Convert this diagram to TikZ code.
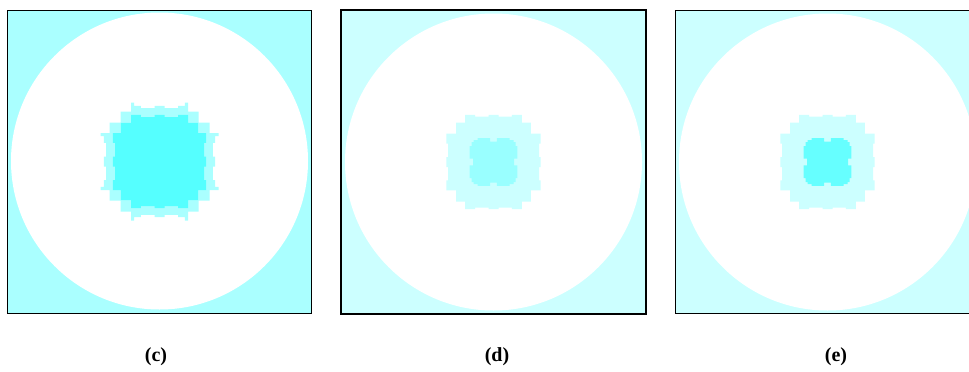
\documentclass[tikz,border=0pt]{standalone}
\usepackage{fontspec}
\setmainfont{Liberation Serif}
\usetikzlibrary{positioning}
\definecolor{edgeC}{HTML}{AAFFFF}
\definecolor{coreC}{HTML}{55FFFF}
\definecolor{edgeD}{HTML}{CCFFFF}
\definecolor{coreD}{HTML}{99FFFF}
\definecolor{coreE}{HTML}{66FFFF}
\tikzset{
  panelbox/.style={draw=black,line width=1pt},
  caption/.style={font=\fontsize{20}{24}\selectfont\bfseries,inner sep=0pt}
}

\begin{document}
\begin{tikzpicture}[x=1pt,y=-1pt]
\clip (0,0) rectangle (969,372);
\fill[white] (0,0) rectangle (969,372);

% panel (c)
\begin{scope}[shift={(159.5,161.5)}]
\fill[edgeC] (-152.5,-151) rectangle (151.5,151.5);
\fill[white] (0,-0.5) circle (148.5);
\fill[edgeC] plot coordinates {(0,-55.7) (5,-55.7) (5,-53.3) (18.7,-53.3) (18.7,-55.7) (25.3,-55.7)
  (25.3,-59) (28.5,-59) (28.5,-50) (39,-50) (39,-39) (50,-39) (50,-28.5) (59,-28.5) (59,-25.3)
  (55.7,-25.3) (55.7,-18.7) (53.3,-18.7) (53.3,-5) (55.7,-5)
  (55.7,5) (53.3,5) (53.3,18.7) (55.7,18.7) (55.7,25.3) (59,25.3) (59,28.5) (50,28.5) (50,39)
  (39,39) (39,50) (28.5,50) (28.5,59) (25.3,59) (25.3,55.7) (18.7,55.7) (18.7,53.3) (5,53.3) (5,55.7)
  (-5,55.7) (-5,53.3) (-18.7,53.3) (-18.7,55.7) (-25.3,55.7) (-25.3,59) (-28.5,59) (-28.5,50)
  (-39,50) (-39,39) (-50,39) (-50,28.5) (-59,28.5) (-59,25.3) (-55.7,25.3) (-55.7,18.7)
  (-53.3,18.7) (-53.3,5) (-55.7,5)
  (-55.7,-5) (-53.3,-5) (-53.3,-18.7) (-55.7,-18.7) (-55.7,-25.3) (-59,-25.3) (-59,-28.5)
  (-50,-28.5) (-50,-39) (-39,-39) (-39,-50) (-28.5,-50) (-28.5,-59) (-25.3,-59) (-25.3,-55.7)
  (-18.7,-55.7) (-18.7,-53.3) (-5,-53.3) (-5,-55.7)} -- cycle;
\fill[coreC] plot coordinates {(0,-46.7) (5,-46.7) (5,-44.5) (18.7,-44.5) (18.7,-46.7) (28.5,-46.7)
  (28.5,-38.7) (38.7,-38.7) (38.7,-28.5) (46.7,-28.5) (46.7,-18.7) (44.5,-18.7) (44.5,-5) (46.7,-5)
  (46.7,5) (44.5,5) (44.5,18.7) (46.7,18.7) (46.7,28.5) (38.7,28.5) (38.7,38.7) (28.5,38.7)
  (28.5,46.7) (18.7,46.7) (18.7,44.5) (5,44.5) (5,46.7)
  (-5,46.7) (-5,44.5) (-18.7,44.5) (-18.7,46.7) (-28.5,46.7) (-28.5,38.7) (-38.7,38.7)
  (-38.7,28.5) (-46.7,28.5) (-46.7,18.7) (-44.5,18.7) (-44.5,5) (-46.7,5)
  (-46.7,-5) (-44.5,-5) (-44.5,-18.7) (-46.7,-18.7) (-46.7,-28.5) (-38.7,-28.5) (-38.7,-38.7)
  (-28.5,-38.7) (-28.5,-46.7) (-18.7,-46.7) (-18.7,-44.5) (-5,-44.5) (-5,-46.7)} -- cycle;
\draw[panelbox,line width=0.9pt] (-152.5,-151) rectangle (151.5,151.5);
\end{scope}

% panel (d)
\begin{scope}[shift={(493.5,162)}]
\fill[edgeD] (-152.5,-152.5) rectangle (152.5,152);
\fill[white] (0,0) circle (148.5);
\fill[edgeD] plot coordinates {(0,-47.2) (5,-47.2) (5,-45.5) (18.3,-45.5) (18.3,-47.2) (28.3,-47.2)
  (28.3,-39.5) (37.3,-39.5) (37.3,-28.3) (47.2,-28.3) (47.2,-18.3) (45.5,-18.3) (45.5,-5) (47.2,-5)
  (47.2,5) (45.5,5) (45.5,18.3) (47.2,18.3) (47.2,28.3) (37.3,28.3) (37.3,39.5) (28.3,39.5)
  (28.3,47.2) (18.3,47.2) (18.3,45.5) (5,45.5) (5,47.2)
  (-5,47.2) (-5,45.5) (-18.3,45.5) (-18.3,47.2) (-28.3,47.2) (-28.3,39.5) (-37.3,39.5)
  (-37.3,28.3) (-47.2,28.3) (-47.2,18.3) (-45.5,18.3) (-45.5,5) (-47.2,5)
  (-47.2,-5) (-45.5,-5) (-45.5,-18.3) (-47.2,-18.3) (-47.2,-28.3) (-37.3,-28.3) (-37.3,-39.5)
  (-28.3,-39.5) (-28.3,-47.2) (-18.3,-47.2) (-18.3,-45.5) (-5,-45.5) (-5,-47.2)} -- cycle;
\fill[coreD] plot coordinates {(0,-20.5) (3.3,-20.5) (3.3,-23.8) (16,-23.8) (16,-22) (20,-22) (20,-20)
  (22,-20) (22,-16) (23.8,-16) (23.8,-3.3) (20.5,-3.3)
  (20.5,3.3) (23.8,3.3) (23.8,16) (22,16) (22,20) (20,20) (20,22) (16,22) (16,23.8) (3.3,23.8) (3.3,20.5)
  (-3.3,20.5) (-3.3,23.8) (-16,23.8) (-16,22) (-20,22) (-20,20) (-22,20) (-22,16) (-23.8,16)
  (-23.8,3.3) (-20.5,3.3)
  (-20.5,-3.3) (-23.8,-3.3) (-23.8,-16) (-22,-16) (-22,-20) (-20,-20) (-20,-22) (-16,-22)
  (-16,-23.8) (-3.3,-23.8) (-3.3,-20.5)} -- cycle;
\draw[panelbox,line width=2pt] (-152.5,-152.5) rectangle (152.5,152);
\end{scope}

% panel (e)
\begin{scope}[shift={(827.5,162)}]
\fill[edgeD] (-152.5,-151.5) rectangle (152.5,151.5);
\fill[white] (0,0) circle (148.5);
\fill[edgeD] plot coordinates {(0,-47.2) (5,-47.2) (5,-45.5) (18.3,-45.5) (18.3,-47.2) (28.3,-47.2)
  (28.3,-39.5) (37.3,-39.5) (37.3,-28.3) (47.2,-28.3) (47.2,-18.3) (45.5,-18.3) (45.5,-5) (47.2,-5)
  (47.2,5) (45.5,5) (45.5,18.3) (47.2,18.3) (47.2,28.3) (37.3,28.3) (37.3,39.5) (28.3,39.5)
  (28.3,47.2) (18.3,47.2) (18.3,45.5) (5,45.5) (5,47.2)
  (-5,47.2) (-5,45.5) (-18.3,45.5) (-18.3,47.2) (-28.3,47.2) (-28.3,39.5) (-37.3,39.5)
  (-37.3,28.3) (-47.2,28.3) (-47.2,18.3) (-45.5,18.3) (-45.5,5) (-47.2,5)
  (-47.2,-5) (-45.5,-5) (-45.5,-18.3) (-47.2,-18.3) (-47.2,-28.3) (-37.3,-28.3) (-37.3,-39.5)
  (-28.3,-39.5) (-28.3,-47.2) (-18.3,-47.2) (-18.3,-45.5) (-5,-45.5) (-5,-47.2)} -- cycle;
\fill[coreE] plot coordinates {(0,-20.5) (3.3,-20.5) (3.3,-23.8) (16,-23.8) (16,-22) (20,-22) (20,-20)
  (22,-20) (22,-16) (23.8,-16) (23.8,-3.3) (20.5,-3.3)
  (20.5,3.3) (23.8,3.3) (23.8,16) (22,16) (22,20) (20,20) (20,22) (16,22) (16,23.8) (3.3,23.8) (3.3,20.5)
  (-3.3,20.5) (-3.3,23.8) (-16,23.8) (-16,22) (-20,22) (-20,20) (-22,20) (-22,16) (-23.8,16)
  (-23.8,3.3) (-20.5,3.3)
  (-20.5,-3.3) (-23.8,-3.3) (-23.8,-16) (-22,-16) (-22,-20) (-20,-20) (-20,-22) (-16,-22)
  (-16,-23.8) (-3.3,-23.8) (-3.3,-20.5)} -- cycle;
\draw[panelbox,line width=0.9pt] (-152.5,-151.5) rectangle (152.5,151.5);
\end{scope}

\node[caption] (capc) at (156,357) {(c)};
\node[caption] (capd) at (497,357) {(d)};
\node[caption] (cape) at (836,357) {(e)};
\end{tikzpicture}
\end{document}
